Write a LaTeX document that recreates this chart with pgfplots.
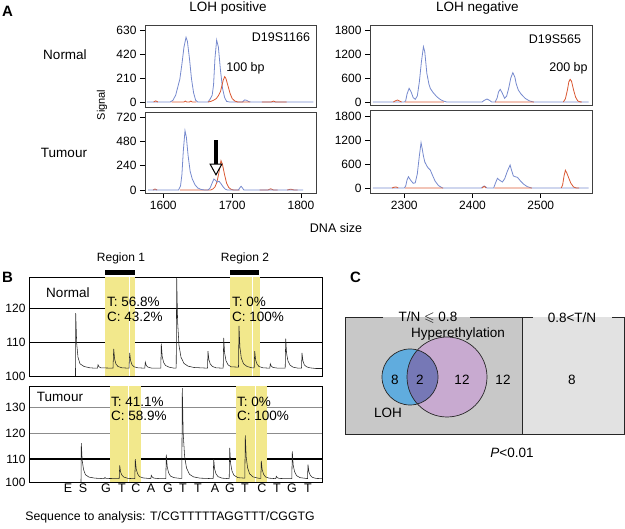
\documentclass[border=0pt]{standalone}
\usepackage{fontspec}
\setmainfont{Liberation Sans}
\usepackage{amssymb}
\usepackage{pgfplots}
\pgfplotsset{compat=1.18}
\newcommand{\fs}[1]{\fontsize{#1}{#1}\selectfont}
\definecolor{eblue}{RGB}{118,138,206}
\definecolor{ered}{RGB}{218,88,50}
\definecolor{pyel}{RGB}{242,232,140}
\definecolor{cgrayA}{RGB}{200,200,200}
\definecolor{cgrayB}{RGB}{226,226,226}
\definecolor{vblue}{RGB}{96,172,222}
\definecolor{vpurp}{RGB}{200,170,208}
\definecolor{vint}{RGB}{118,120,182}
\begin{document}
\begin{tikzpicture}
\path[use as bounding box] (0pt,0pt) rectangle (625pt,-529pt);
\pgfplotsset{
 eaxis/.style={scale only axis, anchor=south west, axis line style={draw=black!75, line width=0.7pt},
   tick align=outside, tick pos=left, major tick length=5pt, tick style={black, line width=0.8pt},
   tick label style={font=\fs{12}}, /pgf/number format/assume math mode=true,
   /pgf/number format/1000 sep={}, scaled ticks=false, unbounded coords=jump, xtick=\empty},
 pyro/.style={scale only axis, anchor=south west, axis line style={draw=black, line width=0.7pt},
   xmin=29, xmax=322, xtick=\empty, major tick length=0pt, tick label style={font=\fs{12}},
   /pgf/number format/assume math mode=true, ymajorgrids, clip=false},
}
% ---------------- Panel A ----------------
\begin{axis}[eaxis, at={(145pt,-107pt)}, width=171pt, height=82pt,
  xmin=1573.4, xmax=1821.8, ymin=-44, ymax=674, ytick={0,210,420,630}]
\addplot[eblue, line width=0.8pt] coordinates {(1576,0) (1610,0) (1614,15) (1618,60) (1621,130) (1624,200) (1627,330) (1630,480) (1633,566) (1635,530) (1638,380) (1641,200) (1644,80) (1647,15) (1650,0) (1665,0) (1668,25) (1671,60) (1673,150) (1675,380) (1677.5,542) (1680,480) (1683,280) (1686,120) (1689,40) (1692,5) (1696,0) (1715,0) (1718,18) (1721,15) (1724,3) (1727,0) (1818,0)};
\addplot[ered, line width=0.8pt] coordinates {(1586,0) (1589,10) (1592,0) (1600,nan) (1612,0) (1630,0) (1632,8) (1634,0) (1638,0) (1640,8) (1642,0) (1648,0) (1655,nan) (1665,0) (1669,5) (1673,15) (1677,30) (1680,55) (1683,90) (1685,140) (1687,190) (1689.2,222) (1691,205) (1694,140) (1697,75) (1700,30) (1704,8) (1708,0) (1726,0) (1735,nan) (1743,0) (1757,0) (1760,8) (1763,0) (1779,0)};
\end{axis}
\begin{axis}[eaxis, at={(145pt,-193pt)}, width=171pt, height=81pt,
  xmin=1573.4, xmax=1821.8, ymin=-29.6, ymax=769.3, ytick={0,240,480,720}, xtick={1600,1700,1800}]
\addplot[ered, line width=0.8pt] coordinates {(1585,0) (1588,10) (1591,0) (1600,nan) (1624,0) (1669,0) (1672,10) (1675,30) (1678,80) (1681,180) (1683.8,289) (1686,250) (1689,150) (1692,66) (1695,25) (1698,8) (1702,0) (1711,0) (1720,nan) (1740,0) (1752,0) (1756,12) (1760,0) (1766,0) (1775,nan) (1780,0) (1785,8) (1790,0) (1795,0)};
\addplot[eblue, line width=0.8pt] coordinates {(1578,0) (1622,0) (1625,40) (1627,150) (1629,380) (1631.5,585) (1633.5,520) (1636,340) (1639,184) (1642,110) (1646,52) (1650,20) (1655,5) (1660,0) (1665,0) (1668,20) (1671,70) (1673.5,108) (1676,95) (1678,78) (1681,86) (1684,60) (1687,30) (1690,8) (1693,0) (1709,0) (1711,20) (1713,36) (1715,20) (1717,0) (1803,0)};
\draw[black, line width=3.2pt] (axis cs:1676.5,490) -- (axis cs:1676.5,255);
\draw[black, fill=white, line width=1pt, line join=miter] (axis cs:1668,255) -- (axis cs:1685,255) -- (axis cs:1676.5,150) -- cycle;
\end{axis}
\begin{axis}[eaxis, at={(370pt,-105pt)}, width=222pt, height=80pt,
  xmin=2249.7, xmax=2575, ymin=-75, ymax=1925, ytick={0,600,1200,1800}]
\addplot[eblue, line width=0.8pt] coordinates {(2254,0) (2300,0) (2302,30) (2304,200) (2307,342) (2310,250) (2313,110) (2316,67) (2319,150) (2322,500) (2325,1000) (2328,1383) (2330,1250) (2333,717) (2336,450) (2338,342) (2342,240) (2347,142) (2352,70) (2357,25) (2362,0) (2414,0) (2417,40) (2421,75) (2425,40) (2428,0) (2433,0) (2436,100) (2438,250) (2440.5,317) (2443,240) (2447,92) (2450,150) (2453,350) (2456,600) (2459,733) (2462,620) (2464,450) (2467,300) (2471,200) (2477,92) (2483,30) (2489,0) (2570,0)};
\addplot[ered, line width=0.8pt] coordinates {(2284,0) (2287,30) (2290,50) (2293,25) (2296,0) (2298,nan) (2301,0) (2358,0) (2400,nan) (2433,0) (2490,0) (2510,nan) (2533,0) (2536,80) (2539,300) (2541,500) (2543,567) (2545,520) (2548,300) (2551,120) (2554,30) (2557,5) (2560,0)};
\end{axis}
\begin{axis}[eaxis, at={(370pt,-193pt)}, width=222pt, height=83pt,
  xmin=2249.7, xmax=2575, ymin=-125, ymax=1950, ytick={0,600,1200,1800}, xtick={2300,2400,2500}]
\addplot[eblue, line width=0.8pt] coordinates {(2254,0) (2300,0) (2302,50) (2304,200) (2306,283) (2309,200) (2313,117) (2316,130) (2319,350) (2322,800) (2324.5,1133) (2326,1000) (2328,800) (2330,650) (2333,550) (2335,500) (2338,450) (2341,330) (2345,175) (2350,60) (2356,0) (2413,0) (2415,30) (2417,50) (2419,30) (2421,0) (2431,0) (2433,100) (2436.4,242) (2440,190) (2443.7,150) (2447,230) (2451,420) (2455,575) (2457,450) (2459.8,300) (2463,280) (2465.7,267) (2470,180) (2474.5,100) (2480,35) (2486,0) (2570,0)};
\addplot[ered, line width=0.8pt] coordinates {(2282,0) (2285,20) (2288,25) (2291,0) (2295,nan) (2301,0) (2357,0) (2400,nan) (2414,0) (2417,40) (2420,0) (2425,nan) (2432,0) (2487,0) (2510,nan) (2530,0) (2532,80) (2534,300) (2536,442) (2538,380) (2541.5,225) (2544,120) (2548,25) (2552,0) (2556,0)};
\end{axis}
% ---------------- Panel B ----------------
\begin{axis}[pyro, at={(29pt,-376pt)}, width=293pt, height=99pt,
  ymin=100, ymax=129.1, ytick={100,110,120}, grid style={black, line width=0.6pt}]
\addplot[fill=pyel, draw=none] coordinates {(104.7,100) (104.7,129.1) (135.3,129.1) (135.3,100)} -- cycle;
\addplot[fill=pyel, draw=none] coordinates {(229.7,100) (229.7,129.1) (260.3,129.1) (260.3,100)} -- cycle;
\addplot[white, line width=0.6pt] coordinates {(129,100) (129,129.1)};
\addplot[white, line width=0.6pt] coordinates {(252,100) (252,129.1)};
\addplot[black, line width=4.5pt] coordinates {(105,130.4) (135,130.4)};
\addplot[black, line width=4.5pt] coordinates {(230,130.4) (259,130.4)};
\addplot[black!85, line width=0.55pt] coordinates {(75.5,100) (75.7,118.5) (76.7,109.5) (78,105.5) (80,103.6) (84,102.8) (90,102.4) (95,102.3) (97.5,102.3) (98,103.3) (99,102.7) (101,102.4) (113,102.3) (113.7,108) (114.6,105) (116,103.5) (118,102.8) (122,102.4) (129,102.3) (129.7,106.8) (130.6,104.5) (132,103.3) (134,102.7) (138,102.4) (144.8,102.3) (145.3,104.1) (146.3,103.1) (148,102.6) (152,102.3) (160.8,102.3) (161.3,109.5) (162.2,105.8) (163.6,104) (165.5,103.1) (169,102.6) (174,102.3) (176.2,102.3) (176.7,128.8) (177.6,116) (179,109) (181,105.5) (184,103.7) (188,102.9) (194,102.5) (207.5,102.3) (208,107.3) (208.9,104.8) (210.3,103.5) (212.5,102.8) (216,102.4) (223.2,102.3) (223.7,111.2) (224.6,106.8) (226,104.5) (228,103.3) (231,102.7) (238.5,102.6) (239,114.7) (239.9,108.5) (241.3,105.3) (243.5,103.6) (247,102.8) (252,102.4) (254.2,102.4) (254.7,107.3) (255.6,104.8) (257,103.5) (259,102.8) (263,102.4) (269.8,102.3) (270.3,103.6) (271.3,102.9) (273,102.5) (278,102.3) (285.2,102.3) (285.7,111) (286.6,106.6) (288,104.4) (290,103.2) (293,102.6) (298,102.3) (301.5,102.3) (302,106.8) (302.9,104.5) (304.3,103.3) (306.5,102.7) (310,102.4) (316,102.2) (322,102.2)};
\end{axis}
\begin{axis}[pyro, at={(29pt,-482pt)}, width=293pt, height=96pt,
  ymin=101, ymax=138.5, ytick={101,120,130}, yticklabels={100,120,130},
  grid style={black!45, line width=0.6pt},
  extra y ticks={110}, extra y tick labels={110},
  extra y tick style={grid style={black, line width=1.2pt}}]
\addplot[fill=pyel, draw=none] coordinates {(109.7,101) (109.7,138.5) (141.3,138.5) (141.3,101)} -- cycle;
\addplot[fill=pyel, draw=none] coordinates {(236.3,101) (236.3,138.5) (267,138.5) (267,101)} -- cycle;
\addplot[white, line width=0.6pt] coordinates {(128,101) (128,138.5)};
\addplot[white, line width=0.6pt] coordinates {(255.7,101) (255.7,138.5)};
\addplot[black!85, line width=0.55pt] coordinates {(81,101) (81.3,116.2) (82.2,109.3) (83.6,105.8) (85.5,103.8) (89,102.9) (95,102.5) (104,102.3) (105,102.8) (106,102.4) (119.2,102.3) (119.7,107.5) (120.6,104.9) (122,103.6) (124,102.9) (128,102.4) (134.8,102.3) (135.3,109.9) (136.2,106.1) (137.6,104.2) (139.5,103.1) (143,102.6) (150.8,102.3) (151.3,103.6) (152.3,102.9) (154,102.5) (160,102.3) (165.8,102.3) (166.3,111.7) (167.2,107) (168.6,104.6) (170.5,103.3) (174,102.7) (180,102.4) (181.8,102.4) (182.3,137.7) (183.2,120) (184.6,111) (186.5,106.5) (189.5,104) (193.5,103) (200,102.5) (213.2,102.3) (213.7,109.9) (214.6,106.1) (216,104.2) (218,103.1) (222,102.5) (229.2,102.3) (229.7,114.3) (230.6,108.3) (232,105.3) (234,103.6) (238,102.7) (244.8,102.5) (245.3,119.2) (246.2,110.8) (247.6,106.5) (249.6,104.2) (253,103) (258,102.5) (260.8,102.4) (261.3,109.2) (262.2,105.8) (263.6,104) (265.5,103) (269,102.5) (275.8,102.3) (276.3,103.2) (277.3,102.7) (279,102.4) (286,102.3) (291.8,102.3) (292.3,113) (293.2,107.6) (294.6,105) (296.5,103.5) (300,102.7) (306,102.4) (307.5,102.3) (308,107.8) (308.9,105) (310.3,103.6) (312.5,102.8) (316,102.4) (322,102.3)};
\end{axis}
% ---------------- Panel C ----------------
\begin{axis}[scale only axis, anchor=south west, at={(345pt,-434pt)}, width=279pt, height=117pt,
  xmin=345, xmax=624, ymin=-434, ymax=-317, hide axis, clip=false]
\addplot[fill=cgrayA, draw=none] coordinates {(345,-434) (345,-317) (522,-317) (522,-434)} -- cycle;
\addplot[fill=cgrayB, draw=none] coordinates {(522,-434) (522,-317) (624,-317) (624,-434)} -- cycle;
\addplot[black!85, line width=0.8pt] coordinates {(383,-317) (345,-317) (345,-434) (624,-434) (624,-317) (612,-317)};
\addplot[black!85, line width=0.8pt] coordinates {(470,-317) (533,-317)};
\addplot[black!85, line width=0.8pt] coordinates {(522,-317) (522,-434)};
\fill[vpurp] (axis cs:447,-377) circle[radius=40pt];
\fill[vblue] (axis cs:410,-377) circle[radius=28pt];
\begin{scope}
\clip (axis cs:410,-377) circle[radius=28pt];
\fill[vint] (axis cs:447,-377) circle[radius=40pt];
\end{scope}
\draw[black!85, line width=0.7pt] (axis cs:447,-377) circle[radius=40pt];
\draw[black!85, line width=0.7pt] (axis cs:410,-377) circle[radius=28pt];
\end{axis}
% ---------------- Text ----------------
\node[font=\bfseries\fs{15}, anchor=west, inner sep=0] at (2pt,-11pt) {A};
\node[font=\fs{13.5}] at (228pt,-8pt) {LOH positive};
\node[font=\fs{13.5}] at (477.5pt,-8pt) {LOH negative};
\node[font=\fs{13.5}] at (65pt,-55pt) {Normal};
\node[font=\fs{13.5}] at (64pt,-153pt) {Tumour};
\node[font=\fs{11}, rotate=90] at (102pt,-105pt) {Signal};
\node[font=\fs{12.5}] at (281pt,-37.5pt) {D19S1166};
\node[font=\fs{12.5}] at (245.5pt,-68pt) {100 bp};
\node[font=\fs{12.5}] at (555pt,-39pt) {D19S565};
\node[font=\fs{12.5}] at (568.5pt,-68pt) {200 bp};
\node[font=\fs{12.5}] at (336pt,-228pt) {DNA size};
\node[font=\bfseries\fs{15}, anchor=west, inner sep=0] at (2pt,-277pt) {B};
\node[font=\fs{12}] at (121pt,-258pt) {Region 1};
\node[font=\fs{12}] at (245pt,-258pt) {Region 2};
\node[font=\fs{13.5}] at (68pt,-293pt) {Normal};
\node[font=\fs{13.5}] at (60pt,-397pt) {Tumour};
\node[font=\fs{13.5}, anchor=west, inner sep=0] at (107pt,-302pt) {T: 56.8\%};
\node[font=\fs{13.5}, anchor=west, inner sep=0] at (107pt,-317pt) {C: 43.2\%};
\node[font=\fs{13.5}, anchor=west, inner sep=0] at (232pt,-302pt) {T: 0\%};
\node[font=\fs{13.5}, anchor=west, inner sep=0] at (232pt,-317pt) {C: 100\%};
\node[font=\fs{13.5}, anchor=west, inner sep=0] at (111pt,-402pt) {T: 41.1\%};
\node[font=\fs{13.5}, anchor=west, inner sep=0] at (111pt,-416pt) {C: 58.9\%};
\node[font=\fs{13.5}, anchor=west, inner sep=0] at (237pt,-402pt) {T: 0\%};
\node[font=\fs{13.5}, anchor=west, inner sep=0] at (237pt,-416pt) {C: 100\%};
\foreach \xx/\ll in {68/E,83/S,106/G,122/T,136/C,151/A,168/G,183/T,198/T,215/A,230/G,245/T,262/C,277/T,292/G,308/T}
  \node[font=\fs{12.5}] at (\xx pt,-488pt) {\ll};
\node[font=\fs{12.3}] at (170pt,-517pt) {Sequence to analysis: T/CGTTTTTAGGTTT/CGGTG};
\node[font=\bfseries\fs{15}, anchor=west, inner sep=0] at (350pt,-277pt) {C};
\node[font=\fs{13.5}] at (428pt,-318pt) {T/N $\leqslant$ 0.8};
\node[font=\fs{13.5}] at (572pt,-318pt) {0.8<T/N};
\node[font=\fs{13.5}] at (458pt,-334pt) {Hyperethylation};
\node[font=\fs{13.5}] at (395pt,-380pt) {8};
\node[font=\fs{13.5}] at (420pt,-380pt) {2};
\node[font=\fs{13.5}] at (462pt,-380pt) {12};
\node[font=\fs{13.5}] at (503pt,-380pt) {12};
\node[font=\fs{13.5}] at (572pt,-380pt) {8};
\node[font=\fs{13.5}] at (388pt,-413pt) {LOH};
\node[font=\fs{13.5}] at (512pt,-453pt) {\textit{P}<0.01};
\end{tikzpicture}
\end{document}
